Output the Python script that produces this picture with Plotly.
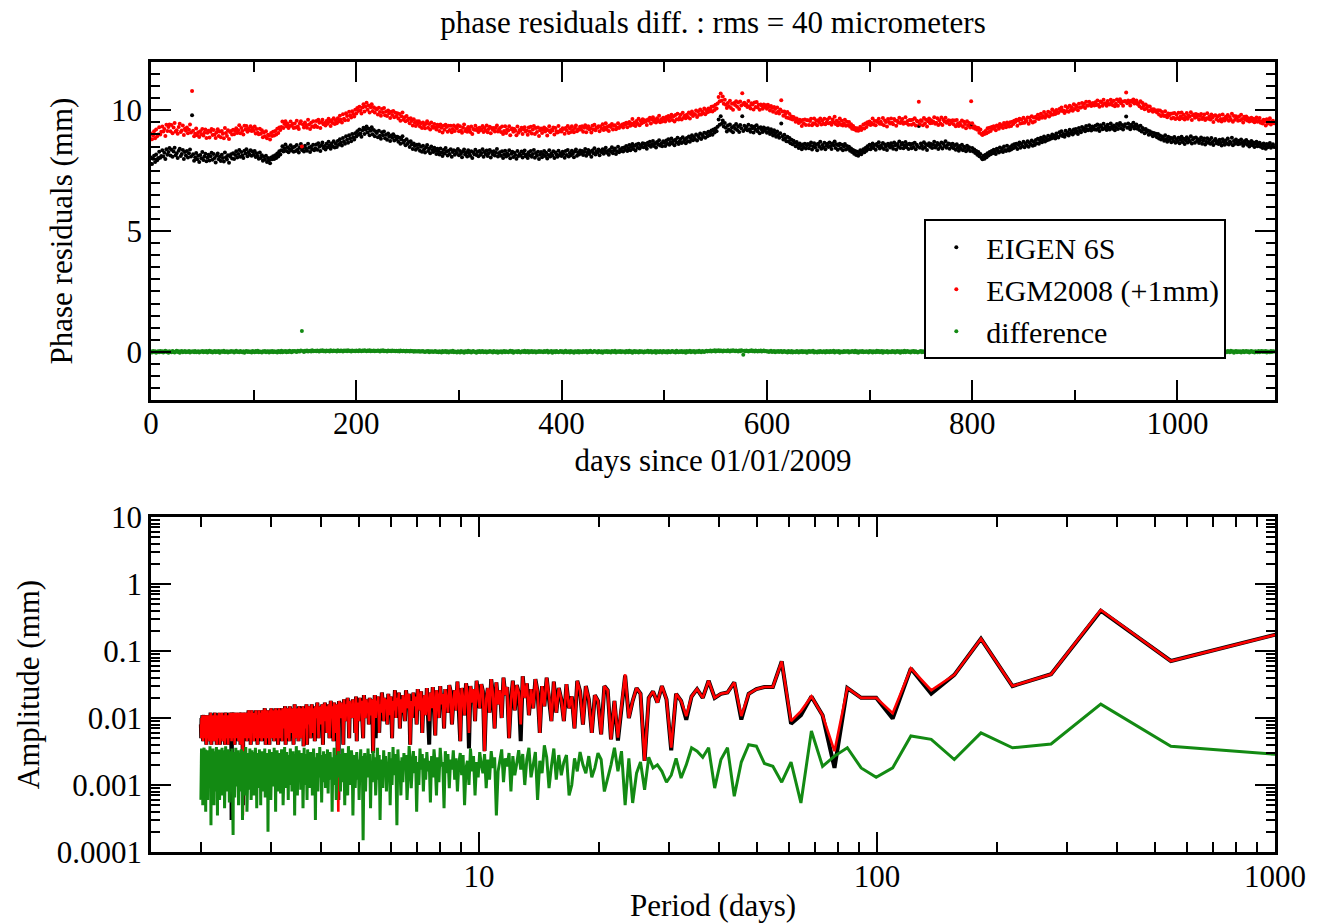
import math
import plotly.graph_objects as go

# ---------------- data ----------------
SPAN_DAYS = 1095  # length of the analysed series in days

# EIGEN 6S phase residuals, one value per day since 01/01/2009 (mm)
eigen6s_mm = [
8.05,7.78,7.99,8.12,7.86,8.17,7.93,8.02,8.28,8.04,8.11,8.35,8.09,8.24,7.98,8.39,8.16,8.27,8.44,8.13,
8.37,8.08,8.29,8.45,8.14,8.22,8.02,8.33,8.41,8.11,8.19,8.36,7.98,8.27,8.13,8.31,8.05,8.22,8.38,8.09,
9.80,8.18,7.91,8.06,8.23,7.97,8.12,7.86,8.15,8.01,8.27,7.94,8.09,8.20,7.89,8.04,8.16,7.92,8.10,8.24,
7.95,8.19,8.03,7.84,8.12,8.21,7.97,8.08,7.90,8.16,8.02,7.88,8.25,8.06,7.96,8.14,7.83,8.09,8.18,8.00,
8.22,7.98,8.15,8.30,8.05,8.19,8.36,8.08,8.27,8.13,8.02,8.33,8.21,8.39,8.10,8.26,8.17,8.35,8.12,8.29,
8.16,8.31,8.07,8.22,8.11,7.99,8.25,8.03,8.14,7.91,8.08,7.96,8.12,7.86,8.02,7.93,7.81,8.05,7.97,8.10,
7.98,8.14,8.02,8.21,8.09,8.30,8.17,8.35,8.51,8.29,8.43,8.58,8.32,8.47,8.26,8.40,8.55,8.34,8.46,8.28,
8.49,8.31,8.56,8.38,8.25,8.47,8.60,8.36,8.44,8.29,8.53,8.41,8.33,8.62,8.45,8.27,8.50,8.39,8.57,8.35,
8.43,8.58,8.37,8.64,8.49,8.32,8.55,8.67,8.44,8.52,8.38,8.61,8.47,8.70,8.54,8.41,8.63,8.50,8.72,8.46,
8.62,8.48,8.73,8.57,8.80,8.66,8.54,8.85,8.71,8.62,8.93,8.78,8.66,8.97,8.84,8.72,9.02,8.88,8.79,9.05,
8.92,9.13,8.99,9.21,9.04,8.90,9.17,9.28,9.02,9.19,9.33,9.08,9.24,8.97,9.15,9.30,9.01,9.18,8.93,9.12,
9.06,8.88,9.15,8.95,8.82,9.09,8.97,9.12,8.84,8.99,8.78,9.04,8.91,8.73,8.96,8.86,9.01,8.75,8.92,8.80,
8.91,8.70,8.86,8.62,8.79,8.93,8.66,8.74,8.55,8.80,8.61,8.69,8.48,8.72,8.58,8.40,8.63,8.52,8.37,8.57,
8.44,8.58,8.33,8.49,8.28,8.53,8.39,8.25,8.47,8.56,8.31,8.42,8.22,8.50,8.36,8.27,8.45,8.33,8.19,8.41,
8.30,8.17,8.42,8.25,8.11,8.36,8.21,8.44,8.29,8.13,8.33,8.19,8.39,8.08,8.27,8.35,8.16,8.31,8.23,8.40,
8.14,8.32,8.20,8.06,8.29,8.38,8.17,8.24,8.09,8.35,8.21,8.12,8.30,8.03,8.26,8.18,8.37,8.15,8.27,8.10,
8.31,8.16,8.23,8.39,8.08,8.27,8.19,8.34,8.11,8.22,8.36,8.05,8.28,8.17,8.30,8.13,8.25,8.40,8.09,8.21,
8.26,8.12,8.30,8.03,8.18,8.33,8.09,8.22,8.14,8.35,8.01,8.20,8.28,8.07,8.24,8.15,7.99,8.31,8.11,8.19,
8.13,8.29,8.05,8.21,8.34,8.10,8.17,8.02,8.26,8.14,8.31,8.08,8.19,8.36,8.04,8.23,8.12,8.28,7.98,8.16,
8.27,8.06,8.18,8.32,8.11,8.24,8.00,8.15,8.35,8.09,8.21,8.13,8.30,8.03,8.25,8.17,8.08,8.33,8.14,8.22,
8.11,8.28,8.19,8.04,8.31,8.15,8.36,8.09,8.23,8.14,8.33,8.20,8.06,8.29,8.38,8.12,8.25,8.17,8.34,8.21,
8.32,8.15,8.27,8.40,8.12,8.24,8.36,8.19,8.29,8.08,8.34,8.22,8.43,8.17,8.30,8.25,8.38,8.14,8.31,8.26,
8.39,8.20,8.33,8.45,8.24,8.31,8.16,8.37,8.28,8.47,8.22,8.35,8.42,8.19,8.30,8.49,8.26,8.38,8.32,8.44,
8.29,8.46,8.37,8.52,8.31,8.43,8.56,8.35,8.48,8.60,8.40,8.53,8.34,8.58,8.45,8.62,8.42,8.55,8.49,8.64,
8.47,8.61,8.53,8.41,8.66,8.55,8.70,8.49,8.59,8.73,8.52,8.64,8.46,8.69,8.58,8.76,8.54,8.63,8.51,8.72,
8.66,8.52,8.75,8.61,8.80,8.57,8.69,8.83,8.63,8.74,8.55,8.78,8.67,8.86,8.60,8.72,8.81,8.65,8.88,8.70,
8.79,8.64,8.85,8.72,8.92,8.70,8.83,8.97,8.76,8.89,8.80,9.00,8.75,8.94,8.86,9.04,8.81,8.98,8.90,9.07,
8.86,9.05,8.93,9.11,8.97,9.09,9.16,8.99,9.20,9.08,9.25,9.13,9.32,9.62,9.40,9.75,9.44,9.58,9.33,9.47,
9.28,9.12,9.37,9.21,9.41,9.15,9.30,9.09,9.35,9.24,9.43,9.18,9.33,9.10,9.39,9.26,9.75,9.14,9.36,9.23,
9.31,9.17,9.40,9.22,9.11,9.35,9.26,9.08,9.33,9.19,9.38,9.13,9.27,9.05,9.30,9.20,9.10,9.29,9.16,9.24,
9.07,9.26,9.13,9.02,9.22,9.09,8.96,9.17,9.04,8.91,9.12,8.98,8.86,9.05,9.45,8.93,8.79,8.99,8.84,8.72,
8.91,8.71,8.85,8.64,8.78,8.59,8.74,8.66,8.51,8.69,8.57,8.44,8.63,8.52,8.39,8.58,8.47,8.61,8.42,8.55,
8.60,8.43,8.55,8.67,8.38,8.51,8.64,8.46,8.58,8.35,8.62,8.49,8.70,8.41,8.56,8.47,8.66,8.39,8.53,8.61,
8.48,8.67,8.52,8.40,8.63,8.55,8.71,8.44,8.59,8.37,8.54,8.62,8.42,8.57,8.35,8.50,8.60,8.38,8.52,8.41,
8.49,8.33,8.42,8.27,8.36,8.20,8.31,8.15,8.28,8.12,8.22,8.35,8.18,8.30,8.39,8.26,8.44,8.33,8.51,8.40,
8.57,8.39,8.49,8.63,8.44,8.56,8.37,8.60,8.51,8.68,8.42,8.54,8.47,8.65,8.40,8.58,8.50,8.36,8.62,8.53,
8.46,8.64,8.52,8.41,8.67,8.55,8.38,8.60,8.49,8.71,8.44,8.58,8.65,8.43,8.54,8.69,8.47,8.59,8.40,8.62,
8.56,8.43,8.61,8.48,8.66,8.39,8.57,8.50,9.35,8.45,8.63,8.54,8.41,8.68,8.47,8.59,8.36,8.55,8.64,8.49,
8.60,8.44,8.57,8.70,8.46,8.53,8.65,8.40,8.58,8.49,8.67,8.42,8.61,8.52,8.72,8.45,8.56,8.63,8.41,8.59,
8.48,8.62,8.43,8.55,8.37,8.59,8.46,8.33,8.52,8.41,8.57,8.35,8.49,8.44,8.30,8.53,8.39,8.47,8.32,9.37,
8.44,8.29,8.38,8.23,8.31,8.16,8.27,8.10,8.19,8.04,7.97,8.12,7.99,8.16,8.06,8.22,8.13,8.27,8.18,8.31,
8.22,8.37,8.28,8.19,8.41,8.33,8.25,8.46,8.30,8.42,8.27,8.50,8.36,8.31,8.53,8.40,8.34,8.48,8.38,8.55,
8.43,8.59,8.48,8.62,8.40,8.56,8.67,8.45,8.60,8.51,8.70,8.47,8.63,8.55,8.72,8.49,8.66,8.58,8.75,8.53,
8.69,8.56,8.77,8.64,8.82,8.61,8.75,8.86,8.68,8.80,8.92,8.71,8.85,8.76,8.95,8.79,8.90,8.83,9.00,8.86,
8.95,8.83,9.04,8.91,8.87,9.09,8.98,9.13,8.94,9.02,8.90,9.15,9.01,9.08,8.96,9.19,9.05,9.12,9.00,9.21,
9.07,9.23,9.12,9.02,9.27,9.15,9.09,9.31,9.19,9.26,9.13,9.35,9.22,9.17,9.38,9.25,9.16,9.33,9.28,9.21,
9.36,9.19,9.41,9.27,9.14,9.38,9.31,9.22,9.44,9.25,9.33,9.18,9.40,9.29,9.21,9.45,9.32,9.24,9.37,9.17,
9.30,9.43,9.23,9.36,9.47,9.26,9.39,9.20,9.34,9.42,9.74,9.28,9.45,9.31,9.22,9.40,9.33,9.48,9.25,9.37,
9.41,9.24,9.33,9.18,9.36,9.12,9.27,9.20,9.05,9.23,9.11,9.16,8.99,9.13,9.02,9.08,8.93,9.06,8.97,9.03,
8.88,9.02,8.83,8.96,8.79,8.92,8.85,8.74,8.97,8.81,8.70,8.90,8.77,8.86,8.68,8.84,8.73,8.89,8.66,8.80,
8.71,8.86,8.64,8.78,8.90,8.69,8.82,8.60,8.76,8.88,8.67,8.81,8.72,8.93,8.63,8.79,8.85,8.66,8.87,8.73,
8.80,8.65,8.76,8.87,8.62,8.74,8.83,8.58,8.70,8.84,8.66,8.77,8.61,8.85,8.69,8.56,8.75,8.81,8.64,8.72,
8.60,8.78,8.66,8.54,8.80,8.69,8.57,8.75,8.63,8.83,8.58,8.71,8.65,8.86,8.55,8.73,8.62,8.79,8.68,8.59,
8.74,8.61,8.79,8.66,8.53,8.72,8.63,8.77,8.57,8.69,8.50,8.64,8.73,8.55,8.67,8.48,8.62,8.70,8.51,8.60,
8.66,8.49,8.58,8.44,8.63,8.53,8.41,8.60,8.47,8.56,8.65,8.45,8.52,8.59,8.48,
]

# difference EIGEN 6S - EGM2008 per day (micrometers)
difference_um = [
12,-25,31,-8,19,-40,5,27,-16,38,-3,22,-29,9,44,-12,17,-35,26,-6,
-18,33,4,-27,15,41,-9,23,-37,11,29,-14,2,36,-22,18,-5,30,-31,8,
0,24,-13,35,-20,7,28,-33,14,-2,39,-17,21,-8,32,-26,10,45,-11,19,
-24,6,37,-15,25,-4,30,-38,13,20,-7,42,-19,3,27,-30,16,-10,34,-1,
22,-28,11,40,-6,18,-23,33,1,-15,26,-34,9,37,-12,24,-3,15,-26,31,
7,-19,29,-9,43,-21,16,4,-31,23,-2,35,-16,12,28,-25,20,-7,38,-13,
26,-4,17,-29,32,8,-14,41,-22,19,2,34,-18,27,-6,45,11,-20,30,14,
36,18,-8,47,23,12,52,860,29,-3,40,21,55,9,33,48,16,62,25,38,
44,19,57,27,8,51,35,64,22,46,13,58,31,49,17,60,39,24,53,30,
47,15,61,34,26,56,41,11,59,37,50,20,66,29,43,18,57,32,48,25,
54,36,21,63,40,28,58,33,70,45,19,52,38,61,27,49,35,57,23,44,
31,55,42,17,50,34,62,26,47,39,13,53,30,45,22,58,36,41,19,48,
27,43,12,51,33,20,46,29,8,40,24,37,15,44,21,32,5,38,18,26,
11,34,-2,28,16,39,7,-9,25,13,31,-14,20,4,27,-6,18,35,-11,9,
-19,23,5,-28,30,-4,14,37,-16,21,-33,8,26,-10,40,-22,12,1,-30,19,
3,-24,34,-7,16,-36,25,10,-18,42,-3,20,-27,13,31,-12,6,-39,22,-5,
29,-15,11,36,-21,4,24,-32,17,-8,38,-1,14,-26,33,7,-17,27,-35,18,
-6,21,-30,9,35,-13,26,2,-23,15,41,-11,30,-37,12,-2,23,-20,37,5,
-25,16,28,-9,43,-18,8,32,-29,20,-4,36,-15,11,25,-33,18,-7,39,-12,
24,1,-21,34,-10,19,45,-26,13,-1,30,-34,9,27,-14,38,3,-22,16,31,
-8,22,-31,14,40,-17,6,28,-24,35,-5,18,-36,26,10,-13,33,-28,20,2,
-19,37,-6,15,29,-32,23,-11,42,4,-23,17,31,-2,12,-27,36,8,-15,25,
-34,11,27,-9,39,-20,19,3,-30,33,14,-12,44,-25,7,22,-6,35,-17,28,
-1,16,-29,32,10,-22,41,-7,24,-35,13,30,-14,19,5,-27,38,-10,21,6,
-32,26,-3,17,43,-19,9,34,-26,15,-8,29,-37,22,12,-16,36,1,-24,31,
8,-13,25,-30,37,4,-21,19,33,-9,14,-28,40,2,-18,27,-4,35,-23,11,
20,-35,30,-6,16,42,-14,23,-1,38,-27,13,28,-11,45,6,-20,34,17,-3,
26,48,9,39,21,57,14,44,31,63,18,52,36,70,25,59,41,12,55,33,
47,22,64,38,16,53,29,68,43,19,58,35,11,50,27,61,40,-120,46,24,
56,30,13,49,37,62,21,45,8,54,33,17,42,26,59,14,38,51,20,35,
9,28,-7,24,41,-5,18,33,-15,26,4,37,-11,21,30,-19,12,35,-3,16,
-24,29,7,-13,36,-28,15,2,-20,32,10,-31,23,-4,39,-16,19,-8,27,-36,
13,34,-10,22,-2,41,-25,17,6,-33,28,-14,37,1,-21,25,9,-29,31,-7,
20,-17,35,-3,14,43,-26,11,27,-12,32,-38,18,5,-22,39,-9,24,-1,30,
-30,16,-5,33,8,-19,42,-14,21,-34,12,28,-6,38,-23,15,-11,26,3,-27,
36,-2,19,-31,24,7,-16,40,-8,29,-20,13,35,-35,22,1,-12,31,-25,17,
4,-18,38,-9,26,-29,15,33,-4,20,-37,27,11,-15,43,-22,9,30,-6,18,
-28,25,-1,34,-13,21,6,-32,0,14,39,-17,28,-5,17,-24,35,2,-19,23,
10,-36,31,-8,19,42,-21,13,-3,37,-27,24,5,-14,29,-33,16,40,-10,22,
-18,27,3,-30,35,-6,12,-25,32,18,-11,26,-38,9,41,-16,20,-2,30,0,
-22,14,37,-9,25,-31,7,33,-17,21,-4,39,-26,15,10,-35,28,-12,36,4,
-20,32,-7,18,44,-24,11,26,-14,38,-2,23,-33,16,30,-10,6,-28,34,19,
-5,27,-36,12,40,-15,22,1,-23,35,8,-19,29,-8,17,42,-29,14,-1,31,
-13,24,36,-21,9,-34,30,5,-16,38,-7,20,27,-25,13,45,-11,18,-30,33,
2,-18,28,11,-27,39,-4,16,-32,25,7,-14,34,-22,19,0,41,-9,23,-37,
14,31,-12,21,-3,37,-24,10,28,-16,35,-6,18,-30,26,4,-20,43,-8,15,
24,-33,9,36,-11,20,-26,32,1,-18,40,-5,14,27,-29,17,-9,34,-21,6,
29,-14,38,-2,16,-31,25,11,-20,33,0,-8,42,-25,19,7,-17,31,-34,22,
3,-23,36,12,-10,27,-37,18,5,-15,40,-4,24,-28,14,32,-12,21,-1,35,
-26,16,8,-33,29,-7,41,-19,13,25,-11,37,-24,4,20,-30,34,-3,17,-15,
28,-36,10,31,-9,22,2,-21,39,-13,15,26,-28,6,35,-5,19,-32,24,11,
-17,33,-3,20,-25,38,7,-14,27,-34,12,30,-8,21,-1,43,-20,16,9,-27,
32,-11,25,4,-30,37,-6,18,-22,29,13,-16,40,-2,23,-35,10,34,-13,19,
-7,27,-29,15,36,-18,8,31,-10,22,-33,12,39,-4,17,-24,28,1,-15,35,
-21,9,30,-12,24,-3,38,-26,14,5,-17,33,-8,20,11,
]

# amplitude spectra, harmonic k = 1, 2, 3, ... of the 1095-day span (micrometers)
amp_egm2008_um = [
200,71,410,45,30,152,44,26,55,11.8,20,20,28,3.2,11,21,12.7,9,70,29,
29,27,23,10.7,34,24,23,20,36,20,27,21,10.7,18,23,3.6,19,30,17,25,
20,2.3,23,28,18,10,45,15,5.1,18,4.8,26,30,5.7,18,22,6,19,30,8,
25,36,7,21,14,32,9,19,
28,12,35,9,22,40,15,30,6,25,38,14,27,11,33,20,42,8,24,31,
13,36,18,5,29,22,40,10,26,16,34,7,23,38,12,28,19,3.2,25,32,
14,21,36,9,27,17,30,6,24,33,11,20,28,4.5,22,35,13,26,18,8,
25,31,12,19,27,7,23,16,30,10,21,26,5.5,18,29,14,24,9,20,28,
11,22,17,6,25,13,19,27,8,21,15,24,10,18,4,23,14,20,26,9,
17,22,12,19,7,24,15,20,10,26,13,18,5,21,16,11,23,8,19,14,
20,9,17,24,12,16,6,21,14,18,10,22,13,3,19,15,11,20,8,17,
13,19,10,16,22,5,15,18,12,20,9,14,17,4.5,21,6,16,13,19,10,
15,12,18,5,14,20,11,16,9,13,19,4,15,12,17,10,14,18,0.4,13,
16,6,14,11,17,4.5,13,15,10,18,12,5,16,11,14,6,15,12,17,9,
13,4,16,12,8,15,11,14,5,13,17,10,12,15,4.5,14,11,6,13,16,
10,5,14,8,15,11,13,4,16,12,7,14,10,3.8,15,8,11,14,5,9,
13,15,4.5,12,7,14,11,5,13,16,10,4,8,14,11,13,6,12,15,4.5,
11,13,5,14,12,8,4,15,11,13,7,12,14,4.5,11,13,10,5,12,14,
10,4,8,13,11,5,14,10,12,4.5,11,13,9,12,5,14,8,11,13,4,
12,10,5,11,13,9,12,4,10,14,11,5,12,6,10,13,4.5,8,12,10,
5,11,13,8,10,4,7,11,9,13,5,12,8,11,4.5,12,10,6,11,13,
9,4,12,8,11,5,13,7,10,12,4.5,11,8,10,12,5,11,7,10,12,
0.35,9,11,5,12,10,4,11,9,12,8,4.5,11,9,6,10,12,5,11,9,
10,4,12,9,11,5,10,12,9,4.5,11,10,7,9,12,5,8,11,4,10,
8,11,5,10,7,12,9,4,11,10,6,9,11,4.5,10,12,9,5,10,11,
8,4,9,12,7,9,11,5,10,9,4,11,10,8,5,12,7,10,4.5,11,
8,10,5,9,11,8,4,9,12,7,9,10,4.5,11,9,6,10,5,11,8,
10,4,9,11,8,10,5,9,11,8,10,4.5,7,11,8,9,10,5,8,
]

amp_eigen6s_um = [
200,71,400,45,30,152,44,23,55,9.8,20,20,28,1.8,11,21,11,8.2,70,29,
29,27,23,9.5,34,24,23,20,36,20,27,21,9.4,18,23,3.3,19,30,17,25,
20,2.3,23,28,18,10,43,15,4.6,18,4.8,26,30,5.7,18,22,6,19,30,8,
25,36,7,21,14,32,9,19,
28,12,35,9,22,40,15,30,6,25,38,14,27,11,33,20,42,4.5,24,31,
13,36,18,5,29,22,40,10,26,16,34,7,23,38,12,28,19,3.2,25,32,
14,21,36,9,27,17,30,3.5,24,33,11,20,28,4.5,22,35,13,26,18,8,
25,31,12,19,27,7,23,16,30,10,21,26,5.5,18,29,14,24,4,20,28,
11,22,17,6,25,13,19,27,8,21,15,24,10,18,4,23,14,20,26,9,
17,22,12,19,7,24,15,20,10,26,13,18,5,21,16,11,23,8,19,14,
20,9,17,24,12,16,6,21,14,18,5,22,13,3,19,15,11,20,8,17,
13,19,10,16,22,5,15,18,12,20,9,14,17,4.5,21,6,16,13,19,10,
15,12,18,5,14,20,11,16,9,13,19,4,15,12,17,10,14,18,0.6,13,
16,6,14,11,17,4.5,13,15,10,18,12,5,16,11,14,6,15,12,17,9,
13,4,16,12,8,15,11,14,5,13,17,10,12,15,4.5,14,11,6,13,16,
10,5,14,8,15,11,13,4,16,12,7,14,10,3.8,15,8,11,14,5,9,
13,15,4.5,12,7,14,11,5,13,16,10,4,8,14,11,13,6,12,15,4.5,
11,13,5,14,12,8,4,15,11,13,7,12,14,4.5,11,13,10,5,12,14,
10,4,8,13,11,5,14,10,12,4.5,11,13,9,12,5,14,8,11,13,4,
12,10,5,11,13,9,12,4,10,14,11,5,12,6,10,13,4.5,8,12,10,
5,11,13,8,10,4,7,11,9,13,5,12,8,11,4.5,12,10,6,11,13,
9,4,12,8,11,5,13,7,10,12,4.5,11,8,10,12,5,11,7,10,12,
0.5,9,11,5,12,10,4,11,9,12,8,4.5,11,9,6,10,12,5,11,9,
10,4,12,9,11,5,10,12,9,0.3,11,10,7,9,12,5,8,11,4,10,
8,11,5,10,7,12,9,4,11,10,6,9,11,4.5,10,12,9,5,10,11,
8,4,9,12,7,9,11,5,10,9,4,11,10,8,5,12,7,10,4.5,11,
8,10,5,9,11,8,4,9,12,7,9,10,4.5,11,9,6,10,5,11,8,
10,4,9,11,8,10,5,9,11,8,10,4.5,7,11,8,9,10,5,8,
]

amp_difference_um = [
2.75,3.8,16.1,4.1,3.6,6.0,2.4,4.8,5.4,1.8,1.3,1.8,3.6,2.7,1.9,6.4,0.54,2.2,1.1,1.9,
2.1,3.8,4.0,2.2,0.68,3.6,2.4,0.9,3.6,2.6,3.2,3.6,2.0,1.27,2.5,1.4,1.1,1.6,2.0,1.8,
2.6,0.85,2.2,1.5,0.54,2.5,0.5,3.2,1.6,3.6,2.0,1.2,0.8,2.4,3.0,1.8,1.3,2.7,1.5,2.0,
3.1,1.6,2.5,1.0,0.7,2.8,2.2,1.4,
2.8,1.2,3.5,1.9,0.9,2.6,3.9,1.5,2.3,0.6,3.1,2.0,1.3,3.6,2.4,1.0,2.9,1.7,3.3,2.1,
1.4,2.7,0.8,3.0,1.9,2.5,1.1,3.4,2.2,1.6,0.35,2.6,1.8,3.2,1.2,2.4,0.9,2.9,1.5,2.0,
3.1,1.3,2.2,0.7,2.7,1.6,3.5,1.0,2.3,1.8,0.5,2.8,1.4,3.0,2.1,0.8,2.5,1.2,3.3,1.7,
2.4,0.9,2.9,1.5,3.2,0.45,2.2,1.9,3.6,1.1,2.6,0.7,2.0,3.4,1.3,2.7,0.55,2.3,1.6,3.1,
1.2,2.5,0.8,2.9,1.7,3.5,1.0,2.2,0.4,2.7,1.5,3.2,1.9,0.9,2.4,3.8,1.3,0.6,2.8,1.8,
3.0,1.1,2.6,0.7,2.3,1.6,3.4,0.25,2.0,2.9,1.4,3.7,1.0,2.5,0.5,3.1,1.7,2.2,0.8,2.7,
1.5,3.3,0.9,2.4,1.9,0.3,2.8,1.2,3.6,2.0,0.7,2.6,1.6,3.2,1.1,2.3,0.45,2.9,1.8,3.5,
1.3,2.5,0.8,3.0,2.1,0.15,2.7,1.4,3.4,1.9,0.6,2.4,1.2,3.1,2.2,0.9,2.8,1.6,0.35,2.5,
3.3,1.0,2.6,1.7,3.8,0.7,2.2,1.4,3.0,0.5,2.7,1.9,3.5,1.1,2.4,0.8,2.9,1.6,3.2,1.3,
2.1,0.6,2.8,1.5,3.6,1.0,2.3,0.4,2.6,1.8,3.1,1.2,2.5,0.75,3.4,1.7,2.2,0.9,2.9,1.4,
3.2,1.1,2.4,0.55,2.8,1.9,3.7,1.3,2.1,0.8,3.0,1.6,2.6,0.3,2.3,1.2,3.5,1.8,0.7,2.7,
1.5,3.1,2.0,0.9,2.6,1.3,3.4,0.6,2.2,1.7,2.9,1.0,3.6,1.9,0.45,2.4,1.4,3.0,0.85,2.5,
1.8,3.3,1.2,2.7,0.7,2.1,3.8,1.5,2.4,0.35,2.9,1.1,3.2,1.9,0.8,2.6,1.4,3.5,2.0,1.0,
2.8,0.6,2.3,1.6,3.1,1.2,2.5,0.9,3.7,1.8,2.2,0.5,2.9,1.3,3.4,1.7,0.75,2.6,1.9,3.0,
1.1,2.4,0.8,3.3,1.6,2.7,0.4,2.1,1.4,3.6,2.0,0.95,2.8,1.2,3.1,1.7,0.6,2.5,1.9,3.4,
1.3,2.6,0.2,2.2,1.8,3.0,1.0,2.7,0.65,3.5,1.5,2.3,1.1,2.9,0.8,3.2,1.9,2.4,0.5,2.8,
1.6,3.4,1.2,2.5,0.9,3.0,2.1,0.45,2.7,1.4,3.6,1.8,2.3,0.7,3.1,1.5,2.6,1.0,3.3,2.0,
0.6,2.8,1.3,3.5,1.9,2.4,0.85,3.0,1.6,2.2,0.4,2.9,1.2,3.7,1.7,2.5,0.7,3.2,1.4,2.6,
1.9,0.3,2.8,1.5,3.4,1.1,2.3,0.8,3.0,1.7,2.6,0.5,3.3,1.3,2.1,0.95,2.9,1.8,3.6,1.2,
2.4,0.65,3.1,1.6,2.7,0.18,2.2,1.4,3.5,1.9,0.9,2.8,1.3,3.2,2.0,0.55,2.6,1.7,3.4,1.1,
2.5,0.8,3.0,1.5,2.3,3.8,1.2,2.7,0.45,3.3,1.8,2.4,1.0,2.9,0.7,3.6,1.6,2.1,0.9,3.1,
1.4,2.6,0.6,3.4,1.9,2.2,1.1,3.0,0.35,2.8,1.5,3.7,2.0,0.8,2.5,1.3,3.2,1.7,0.5,2.9,
1.2,3.5,2.1,0.75,2.7,1.6,3.1,0.25,2.4,1.4,3.8,1.9,0.9,2.6,1.3,3.3,2.0,0.6,2.8,1.5,
3.0,1.1,2.5,0.4,3.4,1.8,2.3,0.85,3.6,1.6,2.9,1.2,0.5,3.1,2.2,1.0,3.5,1.4,0.6,
]

assert len(eigen6s_mm) == SPAN_DAYS, len(eigen6s_mm)
assert len(difference_um) == SPAN_DAYS, len(difference_um)
assert len(amp_egm2008_um) == len(amp_eigen6s_um) == len(amp_difference_um), (
    len(amp_egm2008_um), len(amp_eigen6s_um), len(amp_difference_um))

# ---------------- derived series ----------------
days = list(range(SPAN_DAYS))
difference_mm = [d / 1000.0 for d in difference_um]
egm2008_mm = [e - d for e, d in zip(eigen6s_mm, difference_mm)]
egm2008_plus1_mm = [v + 1.0 for v in egm2008_mm]
periods = [SPAN_DAYS / k for k in range(1, len(amp_egm2008_um) + 1)]
amp_eigen_mm = [a / 1000.0 for a in amp_eigen6s_um]
amp_egm_mm = [a / 1000.0 for a in amp_egm2008_um]
amp_diff_mm = [a / 1000.0 for a in amp_difference_um]

# ---------------- styling ----------------
FONT = "Liberation Serif, Times New Roman, serif"
BLACK = "#000000"
RED = "#ff0000"
GREEN = "#138a13"
FS = 31

fig = go.Figure()
fig.add_trace(go.Scatter(x=days, y=eigen6s_mm, mode="markers", name="EIGEN 6S",
                         marker=dict(color=BLACK, size=4), xaxis="x", yaxis="y"))
fig.add_trace(go.Scatter(x=days, y=egm2008_plus1_mm, mode="markers", name="EGM2008 (+1mm)",
                         marker=dict(color=RED, size=4), xaxis="x", yaxis="y"))
fig.add_trace(go.Scatter(x=days, y=difference_mm, mode="markers", name="difference",
                         marker=dict(color=GREEN, size=4), xaxis="x", yaxis="y"))

fig.add_trace(go.Scatter(x=periods, y=amp_eigen_mm, mode="lines", showlegend=False,
                         line=dict(color=BLACK, width=4), xaxis="x2", yaxis="y2"))
fig.add_trace(go.Scatter(x=periods, y=amp_egm_mm, mode="lines", showlegend=False,
                         line=dict(color=RED, width=2.6), xaxis="x2", yaxis="y2"))
fig.add_trace(go.Scatter(x=periods, y=amp_diff_mm, mode="lines", showlegend=False,
                         line=dict(color=GREEN, width=3), xaxis="x2", yaxis="y2"))

tickfont = dict(family=FONT, size=FS, color="black")
titlefont = dict(family=FONT, size=FS, color="black")
common = dict(showline=True, linecolor="black", linewidth=2.5, mirror="ticks",
              ticks="inside", tickcolor="black", tickwidth=2,
              showgrid=False, zeroline=False, automargin=False,
              tickfont=tickfont)

minor_lin = dict(ticks="inside", tickcolor="black", tickwidth=2, showgrid=False)

x_minor_log = [m * 10 ** e for e in (0, 1, 2) for m in range(2, 10)]
y_minor_log = [m * 10.0 ** e for e in (-4, -3, -2, -1, 0) for m in range(2, 10)]

fig.update_layout(
    width=1319, height=923,
    margin=dict(l=151, r=44, t=62, b=71),
    paper_bgcolor="white", plot_bgcolor="white",
    font=dict(family=FONT, color="black"),
    title=dict(text="phase residuals diff. : rms = 40 micrometers",
               x=0.5, xref="paper", xanchor="center",
               y=1 - 22 / 923, yref="container", yanchor="middle",
               font=dict(family=FONT, size=FS, color="black")),
    xaxis=dict(**common, domain=[0, 1], anchor="y", range=[0, 1095],
               tick0=0, dtick=200, ticklen=20, ticklabelstandoff=-6,
               minor=dict(**minor_lin, dtick=100, ticklen=10),
               title=dict(text="days since 01/01/2009", standoff=10, font=titlefont)),
    yaxis=dict(**common, domain=[0.572, 1], anchor="x", range=[-2, 12],
               tick0=0, dtick=5, ticklen=20,
               minor=dict(**minor_lin, dtick=0.5, ticklen=9),
               title=dict(text="Phase residuals (mm)", standoff=30, font=titlefont)),
    xaxis2=dict(**common, domain=[0, 1], anchor="y2", type="log",
                range=[math.log10(1.5), 3],
                tickmode="array", tickvals=[10, 100, 1000], ticktext=["10", "100", "1000"],
                ticklen=20, ticklabelstandoff=-5,
                minor=dict(**minor_lin, tickmode="array", tickvals=x_minor_log, ticklen=10),
                title=dict(text="Period (days)", standoff=7, font=titlefont)),
    yaxis2=dict(**common, domain=[0, 0.424], anchor="x2", type="log",
                range=[-4, 1],
                tickmode="array",
                tickvals=[1e-4, 1e-3, 1e-2, 1e-1, 1, 10],
                ticktext=["0.0001", "0.001", "0.01", "0.1", "1", "10"],
                ticklen=20,
                minor=dict(**minor_lin, tickmode="array", tickvals=y_minor_log, ticklen=9),
                title=dict(text="Amplitude (mm)", standoff=8, font=titlefont)),
    legend=dict(x=0.688, y=0.801, xanchor="left", yanchor="top",
                bgcolor="white", bordercolor="black", borderwidth=2,
                font=dict(family=FONT, size=30, color="black"),
                tracegroupgap=0, itemwidth=50),
    showlegend=True,
)

fig.write_html("out.html", config={"displayModeBar": False},
               post_script="document.body.style.margin='0';")
